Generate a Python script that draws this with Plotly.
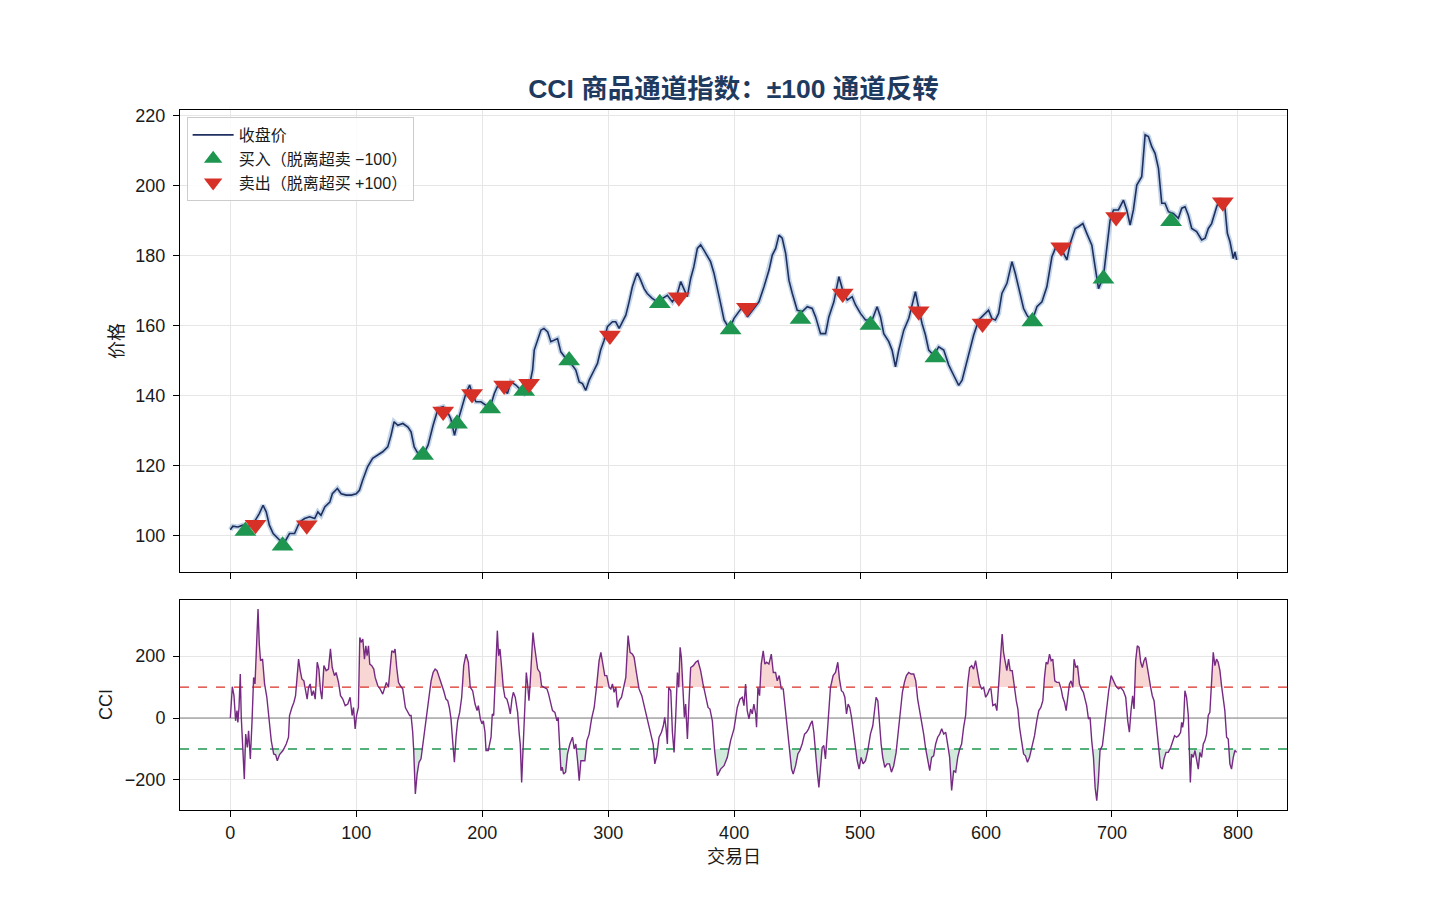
import plotly.graph_objects as go

# ---------------- data ----------------
price_days = [0, 2, 6, 10, 14, 19, 23, 26, 28.5, 31, 34, 38, 42, 44, 47, 51, 55, 59, 63, 67, 69.5, 72, 75, 79, 81, 85, 88, 92, 96, 100,
              102.5, 105, 109, 113, 117, 121, 125, 127.6, 130, 133, 137, 141, 143.5, 146, 149, 153, 157, 161, 165, 169, 173, 175, 178,
              180.5, 184, 187, 190, 192, 195,
              199, 203, 205.6, 209.6, 212, 216, 220, 222.8, 226.7, 229.4, 233.4, 237.3, 240, 241.3, 244, 246.6, 249, 252, 254.5, 257,
              259.8, 262.4, 266.4, 270.4, 274.3, 277, 279.6, 282.2, 284.9, 288.9, 291.5, 294, 296.8, 299.4, 303.4, 306, 308.7, 311.3,
              314, 316.6, 319.2, 321.9, 323.2, 325.8, 328.5, 331, 335, 339, 343, 347, 351, 355, 357.6, 360.2, 362.8, 365.5, 368, 370.8,
              373.4, 376, 378.7, 381.3, 384, 386.6, 389.3, 392, 394.6, 397.2, 399.8, 403.8, 407.8,
              410.5, 415.8, 419.7, 423.7, 427.7, 430.3, 433, 435.6, 438.2, 440.9, 443.5, 446.2, 450.1, 454.1, 458.1, 462, 464.7, 468.6,
              472.6, 475.2, 479.2, 483.2, 485.8, 489.8, 493.7, 496.4, 500.3, 504.3, 509.6, 513.5, 516.2, 518.8, 522.8, 525.4, 528.1,
              530.7, 534.7, 538.7, 541.3, 543.9, 546.6, 549.2, 551.9, 554.5, 558.5, 562.4, 566.4, 570.4, 574.3, 578.3, 581, 585, 587.6,
              590.2, 594.2, 598.1, 602,
              604.7, 607.4, 610, 612.6, 616.6, 620.6, 623.2, 625.9, 629.8, 632.5, 636.4, 640.4, 644.4, 648.3, 652.3, 655, 658.9, 661.5,
              664.2, 666.8, 670.8, 673.4, 676.9, 680, 684, 686.6, 689.3, 693.2, 695.9, 698.5, 701.2, 705.1, 709.1, 711.7, 714.4, 717,
              719.7, 723.6, 726.3, 728.9, 731.6, 734.2, 736.9, 739.5, 742.1, 744.8, 748.7, 752.7, 755.4, 758, 760.6, 763.3, 767.2,
              771.2, 773.9, 776.5, 779.1, 783.1, 785.8, 789.7, 791.6, 793.7, 796.3, 797.6, 799]
price_vals = [101.6, 102.6, 102.4, 102.9, 102.4, 103.8, 106.2, 108.6, 106.7, 102.9, 100.5, 99.0, 97.6, 98.6, 100.5, 100.5, 103.8, 104.8,
              105.3, 104.8, 106.7, 105.7, 108.1, 109.5, 111.9, 113.4, 111.9, 111.5, 111.5, 111.9,
              112.9, 115.7, 119.6, 122.0, 122.9, 123.9, 125.3, 128.6, 132.5, 131.5, 132.0, 131.0, 129.6, 125.3, 123.4, 122.9, 125.8,
              131.5, 136.3, 136.8, 134.9, 133.4, 128.6,
              132.5, 136.8, 140.6, 143.0, 140.6, 138.2,
              138.2, 137.2, 135.8, 140.6, 142.5, 142.5, 140.6, 143.9, 143.0, 142.0, 140.6, 142.5, 147.3, 153.0, 155.8, 158.7, 159.2,
              158.2, 155.4, 155.8, 156.3, 152.5, 150.6, 149.2, 147.3, 143.9, 143.4, 141.5, 144.4, 147.3, 149.2, 153.0, 155.8, 159.7,
              161.1, 161.1, 159.2, 161.1, 163.0, 166.8, 171.1, 174.0, 175.0, 173.0, 170.6, 169.2, 167.8, 166.8, 167.8, 168.7, 166.8,
              169.2, 172.6, 170.6, 168.3, 173.5, 176.8, 182.1, 183.1, 181.6, 179.7, 178.3, 175.0, 170.2, 166.3, 161.6, 160.1, 159.7,
              162.0, 164.0, 165.9,
              162.5, 164.9, 166.8, 171.1, 175.9, 180.2, 182.1, 185.9, 185.0, 180.7, 173.0, 169.2, 164.4, 164.0, 165.4, 164.9, 162.5,
              157.7, 157.7, 162.5, 166.8, 174.0, 170.6, 167.3, 168.3, 165.9, 163.5, 161.6, 161.6, 165.4, 162.5, 157.7, 155.4, 153.0,
              148.2, 153.0, 158.7, 162.1, 166.3, 169.7, 164.9, 160.6, 157.3, 153.0, 151.5, 153.9, 153.0, 148.7, 145.8, 142.9, 144.4,
              150.1, 153.5, 157.3, 161.6, 163.0, 164.4,
              162.0, 161.6, 163.5, 169.2, 172.1, 178.3, 175.0, 171.1, 164.9, 163.0, 161.1, 165.4, 166.8, 171.1, 179.7, 182.1, 182.1,
              180.7, 178.8, 183.5, 187.8, 188.3, 189.2, 186.4, 183.0, 176.8, 170.6, 174.0, 182.6, 190.2, 193.1, 193.1, 195.9, 193.1,
              188.8, 193.1, 200.2, 202.6, 214.6, 214.1, 211.2, 209.3, 205.0, 195.0, 195.0, 192.6, 192.1, 190.7, 193.6, 194.0, 191.6,
              187.8, 186.9, 184.5, 185.0, 187.8, 189.2, 194.0, 196.4, 193.6, 186.4, 184.0, 179.2, 181.1, 178.8]

buy_days = [12, 41.5, 153, 180, 206.3, 233.3, 269, 341, 397.2, 452.7, 508.2, 559.8, 636.8, 693.2, 746.9]
buy_prices = [101.2, 97.0, 123.0, 131.9, 136.3, 141.3, 150.0, 166.4, 158.9, 161.9, 160.2, 150.9, 161.2, 173.4, 189.9]
sell_days = [20, 60.7, 169, 191.9, 217.4, 237.2, 301.4, 356.1, 410.2, 486.2, 546.5, 597.2, 659.7, 703.3, 788]
sell_prices = [103.0, 102.9, 135.4, 140.4, 142.9, 143.4, 157.2, 168.1, 165.1, 169.2, 164.1, 160.6, 182.4, 191.1, 195.3]

cci_days = [0, 1.6, 2.9, 4.2, 5.3, 6, 6.9, 7.9, 8.7, 9.8, 11.1, 12.2, 13.5, 14.5, 15.9, 17.2, 18.5, 19.6, 20.6, 22, 23, 24, 25.6, 27.2,
            29, 30.7, 32.5, 34.4, 36, 37.3, 39.1, 41.8, 44.4, 46.2, 47, 48.9, 50.5, 51.8, 52.9, 54.2, 55.5, 56.8, 58.4, 59.5, 61, 62.1,
            63.4, 64.7, 66, 67.4, 69, 70.3, 71.6, 72.7, 74.3, 76.1, 77.9, 79.5, 80.9, 82.7, 84, 85.9, 87.5, 89.3, 91.2, 93.3, 95.1,
            96.7, 97.8, 99.1, 100.2, 101.7, 102.8, 103.9, 105.2, 106.5, 107.6, 108.6, 109.7, 110.7, 112.3, 113.9, 115, 117.1, 118.9,
            121, 122.4, 123.9, 125.5, 127.1, 128.2, 129.8, 130.8, 132.1, 133.5, 135, 136.9, 139, 140.9, 142.4, 143.5, 144.8, 145.6,
            146.9, 148.3, 149.8, 151.4, 152.5, 154.1, 155.9, 157.5, 159.4, 161, 162.6, 164.1, 165.4, 167.3, 169.4, 171.2, 172.6,
            173.9, 175.2, 176.5, 177.9, 179.2, 180.5, 182.1, 183.7, 185.3, 187.1, 189, 190.5,
            192.4, 194.3, 195.9, 196.9, 198.5, 199.8, 200.9, 202.2, 203, 204.8, 207, 208, 209.1, 210.1, 210.9, 212, 213, 214.1, 215.4,
            216.7, 218, 219.6, 221, 222.3, 223.6, 224.7, 226.2, 228.1, 229.4, 230.2, 231.3, 232.6, 233.9, 235, 236, 237.1, 238.1,
            239.2, 240.3, 241.3, 242.6, 244, 245.8, 247.1, 249.2, 251.4, 252.7, 254.5, 255.8, 257.7, 259.3, 260.3, 261.4, 262.5,
            263.5, 264.6, 266.2, 267.7, 269.6, 271.7, 273, 274.3, 275.7, 277, 278.3, 279.9, 281.5, 283.1, 284.9, 286.8, 288.9, 291,
            292.8, 294.2, 295.7, 297.3, 298.9, 300.8, 302.1, 303.4, 304.7, 306.1, 307.4, 308.7, 310.6, 312.7, 314, 315.8, 317.4,
            319.3, 320.6, 322.4, 324.5, 326.7, 328.5, 330.4, 332, 333.8, 335.7, 337, 338.6, 340.4, 342.3, 343.8, 344.9, 346, 347,
            348.1, 349.7, 351, 352.3, 353.6, 355, 356, 357.1, 358.1, 359.4, 360.5, 361.5, 362.9, 364.2, 365.5, 367.6, 369.5, 371.3,
            373.4, 375.3, 377.4, 379.3, 380.8, 382.7, 384.5, 386.7, 389.3, 392, 394.6,
            397.2, 399.9, 402.5, 404.6, 406.5, 407.8, 409.1, 410.4, 411.8, 413.1, 414.4, 415.7, 417.1, 417.8, 418.9, 420.2, 421.5,
            423.1, 424.4, 425.8, 427.6, 429.5, 431.1, 432.9, 434.2, 435.8, 437.4, 439, 440.8, 442.7, 444.3, 445.6, 446.9, 448.8,
            450.6, 452.2, 454, 455.9, 457.5, 459.1, 460.7, 462, 463.3, 464.6, 465.9, 467.3, 468.6, 469.9, 471.2, 472.5, 473.9,
            475.2, 476.5, 478.6, 480.5, 482.3, 483.6, 485.2, 486.6, 487.9, 489.2, 490.5, 491.8, 493.2, 494.5, 495.8, 497.7, 499.2,
            500.8, 502.4, 504.3, 506.1, 508.2, 510.1, 511.4, 512.7, 514.1, 515.4, 516.7, 518, 519.6, 521.4, 523.3, 524.9, 526.7,
            528.6, 530.2, 532, 533.6, 535.2, 536.8, 538.6, 540.5, 542.6, 544.2, 545.7, 547.3, 548.9, 550.5, 552.1, 553.7, 555.3,
            556.8, 558.4, 560, 561.6, 563.2, 564.8, 566.4, 568, 569.5, 571.1, 572.7, 574.3, 575.9, 577.5, 579.1, 580.6, 582.2,
            583.8, 585.4, 587, 588.6, 590.1, 591.7, 593.3, 594.9, 596.5, 598.1, 599.7, 601.2, 602.8,
            603.9, 605.4, 607.3, 608.6, 609.9, 611.3, 612.8, 613.9, 615.2, 616.5, 617.9, 619.2, 620.8, 622.4, 624, 625.3, 626.6,
            628.2, 629.8, 631.3, 632.9, 634.5, 636.4, 638.5, 640.3, 641.9, 643.5, 645.1, 646.4, 647.7, 649, 650.4, 651.7, 653,
            654.6, 656.2, 658, 659.6, 660.9, 662.3, 663.6, 664.9, 666.2, 667.5, 668.9, 669.9, 671.3, 672.6, 674.2, 675.7, 677.3,
            678.9, 679.9, 681.3, 682.6, 683.9, 685.3, 686.6, 687.9, 689.2, 690.5, 692.4, 694, 695.8, 697.4, 699.3, 701.1, 703,
            705.1, 706.9, 709, 710.9, 712.5, 713.8, 715.1, 716.4, 717.5, 718.8, 720.1, 721.5, 722.8, 724.1, 725.4, 726.7, 728.1,
            729.4, 730.7, 732, 733.4, 734.7, 736, 737.3, 738.6, 740, 741.3, 742.9, 744.7, 746.6, 748.1, 749.7, 751.3, 752.9, 754.5,
            755.3, 756.1, 756.9, 757.9, 759.2, 760.6, 761.4, 762.2, 763.2, 764.5, 765.9, 767.2, 768.5, 769.8, 771.1, 772.5, 773.8,
            775.1, 776.4, 777.7, 779.1, 780.4, 781.7, 783, 784.3, 785.7, 787, 788.3, 789.6, 791, 792.3, 793.6, 794.9, 796.3,
            797.6, 798.9]
cci_vals = [0, 101, 72, -9, 24, -14, 34, 142, 2, -95, -197, -52, -95, -41, -132, -14, 131, 110, 217, 352, 239, 185, 190, 110,
            67, -9, -73, -116, -119, -138, -118, -105, -84, -62, 8, 34, 51, 72, 131, 190, 153, 126, 120, 94, 61, 99,
            110, 72, 88, 61, 180, 158, 88, 61, 169, 153, 158, 223, 163, 137, 147, 115, 72, 61, 40, 45, 67,
            8, 34, -35, 8, 34, 260, 244, 255, 190, 233, 201, 233, 174, 169, 158, 131, 104, 94,
            77, 94, 115, 99, 180, 217, 212, 223, 163, 115, 104, 94, 34, 18, 8, 8, -46, -105,
            -245, -181, -143, -132, -95, -52, 8, 67, 120, 147, 158, 153, 137, 120, 88, 61, 56,
            34, -3, -73, -143, -62, -9, 18, 67, 169, 206, 180, 99,
            88, 45, 24, 40, -3, -19, -9, -46, -105, -105, -62, 13, 8, 115, 142, 282, 201, 223, 163,
            99, 67, 61, 40, 13, 61, 83, 67, 18, -52, -84, -208, -73, 45, 147, 110, 56, 115,
            212, 276, 239, 196, 158, 147, 104, 99, 94, 77, 51, 24, 18, -9, 2, -111, -170,
            -159, -181, -175, -116, -84, -62, -100, -84, -138, -202, -138, -138, -138, -73, -52, -3, 34, 110,
            185, 212, 180, 137, 137, 99, 94, 110, 83, 99, 34, 56, 67, 104, 131, 266, 212,
            206, 196, 147, 94, 72, 40, 8, -19, -46, -84, -148, -122, -62, -46, -25, 2, -35, -84,
            99, 88, -46, -111, 2, 147, 99, 228, 196, 104, 2, 45, -68, 56, 163, 169, 180, 185,
            153, 110, 72, 34, 29, -9, -105, -186, -165, -154, -127,
            -73, -35, 34, 61, 67, 40, 110, 24, -3, 29, 13, 45, 13, -30, 99, 72, 174,
            217, 174, 180, 174, 206, 147, 147, 120, 137, 94, 94, 18, -52, -116, -165, -181, -154,
            -116, -105, -84, -52, -46, -35, -19, -9, -46, -116, -170, -224, -159, -95, -89, -132, -52,
            24, 99, 137, 147, 180, 126, 88, 83, 67, 13, 45, 34, 2, -41, -84, -138, -165,
            -127, -148, -138, -105, -52, -25, 29, 67, 56, -19, -84, -127, -159, -148, -148, -175, -154,
            -111, -52, 24, 83, 115, 137, 147, 142, 142, 120, 61, 24, -3, -52, -100, -138, -170,
            -127, -122, -84, -62, -52, -35, -52, -46, -84, -127, -234, -170, -175, -127, -100, -84, -30,
            8, 110, 163, 169, 158, 185, 153, 110, 94, 99, 67, 77, 94,
            94, 40, 45, 24, 110, 169, 271, 212, 185, 153, 190, 153, 153, 99, 56, 29, -30,
            -73, -116, -122, -143, -127, -95, -57, -9, 24, 34, 56, 131, 180, 174, 206, 185, 190,
            120, 115, 115, 94, 67, 51, 24, 72, 110, 120, 99, 190, 163, 169, 110, 94, 83,
            56, 40, -3, 2, -73, -127, -224, -267, -202, -105, -89, -30, 34, 88, 137, 120, 104,
            94, 99, 88, 67, -9, -46, 24, 72, 29, 185, 233, 228, 180, 163, 185, 196, 163,
            137, 99, 72, 56, 2, -52, -116, -159, -165, -132, -111, -111, -95, -73, -57, -62, -57, -46,
            -14, -30, -9, 88, 67, 8, -127, -208, -116, -127, -105, -138, -165, -111, -127, -84, -73,
            -52, 8, 18, 110, 212, 169, 190, 180, 153, 104, 67, 24, -62, -68, -148, -165, -127,
            -105, -111]

x_ticks = [0, 100, 200, 300, 400, 500, 600, 700, 800]
price_ticks = [100, 120, 140, 160, 180, 200, 220]
cci_ticks = [-200, 0, 200]
cci_tick_text = ["\u2212200", "0", "200"]
overbought = 100
oversold = -100

# ---------------- styles ----------------
FONT = "Liberation Sans, Noto Sans CJK SC, sans-serif"
NAVY = "#1f2f60"
HALO = "rgba(120,160,205,0.45)"
GREEN = "#1e9650"
RED = "#d73027"
PURPLE = "#762a83"
GRID = "#e6e6e6"


def clipped(xs, ys, level, above):
    """Points of the CCI clipped at a level, with the crossing points added (for shading)."""
    ox, oy = [], []
    for i in range(len(xs)):
        if i > 0:
            y0, y1 = ys[i - 1], ys[i]
            if (y0 - level) * (y1 - level) < 0:
                t = (level - y0) / (y1 - y0)
                ox.append(xs[i - 1] + t * (xs[i] - xs[i - 1]))
                oy.append(level)
        ox.append(xs[i])
        oy.append(max(ys[i], level) if above else min(ys[i], level))
    return ox, oy


xr = [-39.95, 838.95]
fig = go.Figure()

# price panel
fig.add_trace(go.Scatter(x=price_days, y=price_vals, mode="lines", line=dict(color=HALO, width=5),
                         showlegend=False, hoverinfo="skip", xaxis="x", yaxis="y"))
fig.add_trace(go.Scatter(x=price_days, y=price_vals, mode="lines", line=dict(color=NAVY, width=1.6),
                         name="收盘价", xaxis="x", yaxis="y"))
fig.add_trace(go.Scatter(x=buy_days, y=buy_prices, mode="markers",
                         marker=dict(symbol="triangle-up", size=19, color=GREEN),
                         name="买入（脱离超卖 \u2212100）", xaxis="x", yaxis="y"))
fig.add_trace(go.Scatter(x=sell_days, y=sell_prices, mode="markers",
                         marker=dict(symbol="triangle-down", size=19, color=RED),
                         name="卖出（脱离超买 +100）", xaxis="x", yaxis="y"))

# CCI panel: shading
ux, uy = clipped(cci_days, cci_vals, overbought, True)
fig.add_trace(go.Scatter(x=[cci_days[0], cci_days[-1]], y=[overbought, overbought], mode="lines",
                         line=dict(width=0, color=RED), showlegend=False, hoverinfo="skip",
                         xaxis="x2", yaxis="y2"))
fig.add_trace(go.Scatter(x=ux, y=uy, mode="lines", line=dict(width=0, color=RED), fill="tonexty",
                         fillcolor="rgba(215,48,39,0.2)", showlegend=False, hoverinfo="skip",
                         xaxis="x2", yaxis="y2"))
lx, ly = clipped(cci_days, cci_vals, oversold, False)
fig.add_trace(go.Scatter(x=[cci_days[0], cci_days[-1]], y=[oversold, oversold], mode="lines",
                         line=dict(width=0, color=GREEN), showlegend=False, hoverinfo="skip",
                         xaxis="x2", yaxis="y2"))
fig.add_trace(go.Scatter(x=lx, y=ly, mode="lines", line=dict(width=0, color=GREEN), fill="tonexty",
                         fillcolor="rgba(30,150,80,0.2)", showlegend=False, hoverinfo="skip",
                         xaxis="x2", yaxis="y2"))

# reference lines
for lvl, col, dash, w in [(0, "#808080", "solid", 1.0), (overbought, RED, "dash", 1.3), (oversold, GREEN, "dash", 1.3)]:
    fig.add_trace(go.Scatter(x=xr, y=[lvl, lvl], mode="lines", line=dict(color=col, width=w, dash=dash),
                             showlegend=False, hoverinfo="skip", xaxis="x2", yaxis="y2"))

fig.add_trace(go.Scatter(x=cci_days, y=cci_vals, mode="lines", line=dict(color=PURPLE, width=1.4),
                         showlegend=False, xaxis="x2", yaxis="y2"))

axis_common = dict(showline=True, linecolor="black", linewidth=1, mirror=True, ticks="outside", ticklen=6,
                   tickwidth=1, tickcolor="black", showgrid=True, gridcolor=GRID, gridwidth=1, zeroline=False,
                   tickfont=dict(family=FONT, size=18, color="#1a1a1a"))

fig.update_layout(
    width=1430, height=910,
    margin=dict(l=180, r=143, t=110, b=100),
    paper_bgcolor="white", plot_bgcolor="white",
    font=dict(family=FONT, color="#1a1a1a"),
    title=dict(text="<b>CCI 商品通道指数：±100 通道反转</b>", x=0.5, xref="paper", xanchor="center",
               y=1 - 89 / 910, yref="container", yanchor="middle",
               font=dict(family=FONT, size=26.5, color="#1f3a5f")),
    xaxis=dict(domain=[0, 1], anchor="y", range=xr, tickvals=x_ticks, showticklabels=False, **axis_common),
    yaxis=dict(domain=[0.34, 1], anchor="x", range=[89.5, 221.7], tickvals=price_ticks, ticklabelstandoff=4,
               **axis_common),
    xaxis2=dict(domain=[0, 1], anchor="y2", range=xr, tickvals=x_ticks, matches="x", **axis_common),
    yaxis2=dict(domain=[0, 0.3], anchor="x2", range=[-297, 381], tickvals=cci_ticks, ticktext=cci_tick_text,
                ticklabelstandoff=4, **axis_common),
    legend=dict(x=0.006, y=0.99, xanchor="left", yanchor="top", bgcolor="rgba(255,255,255,0.85)",
                bordercolor="#cccccc", borderwidth=1, font=dict(family=FONT, size=16, color="#1a1a1a"),
                tracegroupgap=0, traceorder="normal", itemwidth=41),
    showlegend=True,
    annotations=[
        dict(text="价格", x=(117 - 180) / 1107, y=(810 - 341) / 700, xref="paper", yref="paper",
             textangle=-90, showarrow=False, font=dict(family=FONT, size=18), xanchor="center", yanchor="middle"),
        dict(text="CCI", x=(106 - 180) / 1107, y=(810 - 705) / 700, xref="paper", yref="paper",
             textangle=-90, showarrow=False, font=dict(family=FONT, size=18), xanchor="center", yanchor="middle"),
        dict(text="交易日", x=0.5, y=(810 - 857) / 700, xref="paper", yref="paper",
             showarrow=False, font=dict(family=FONT, size=18), xanchor="center", yanchor="middle"),
    ],
)

fig.write_html("out.html")
